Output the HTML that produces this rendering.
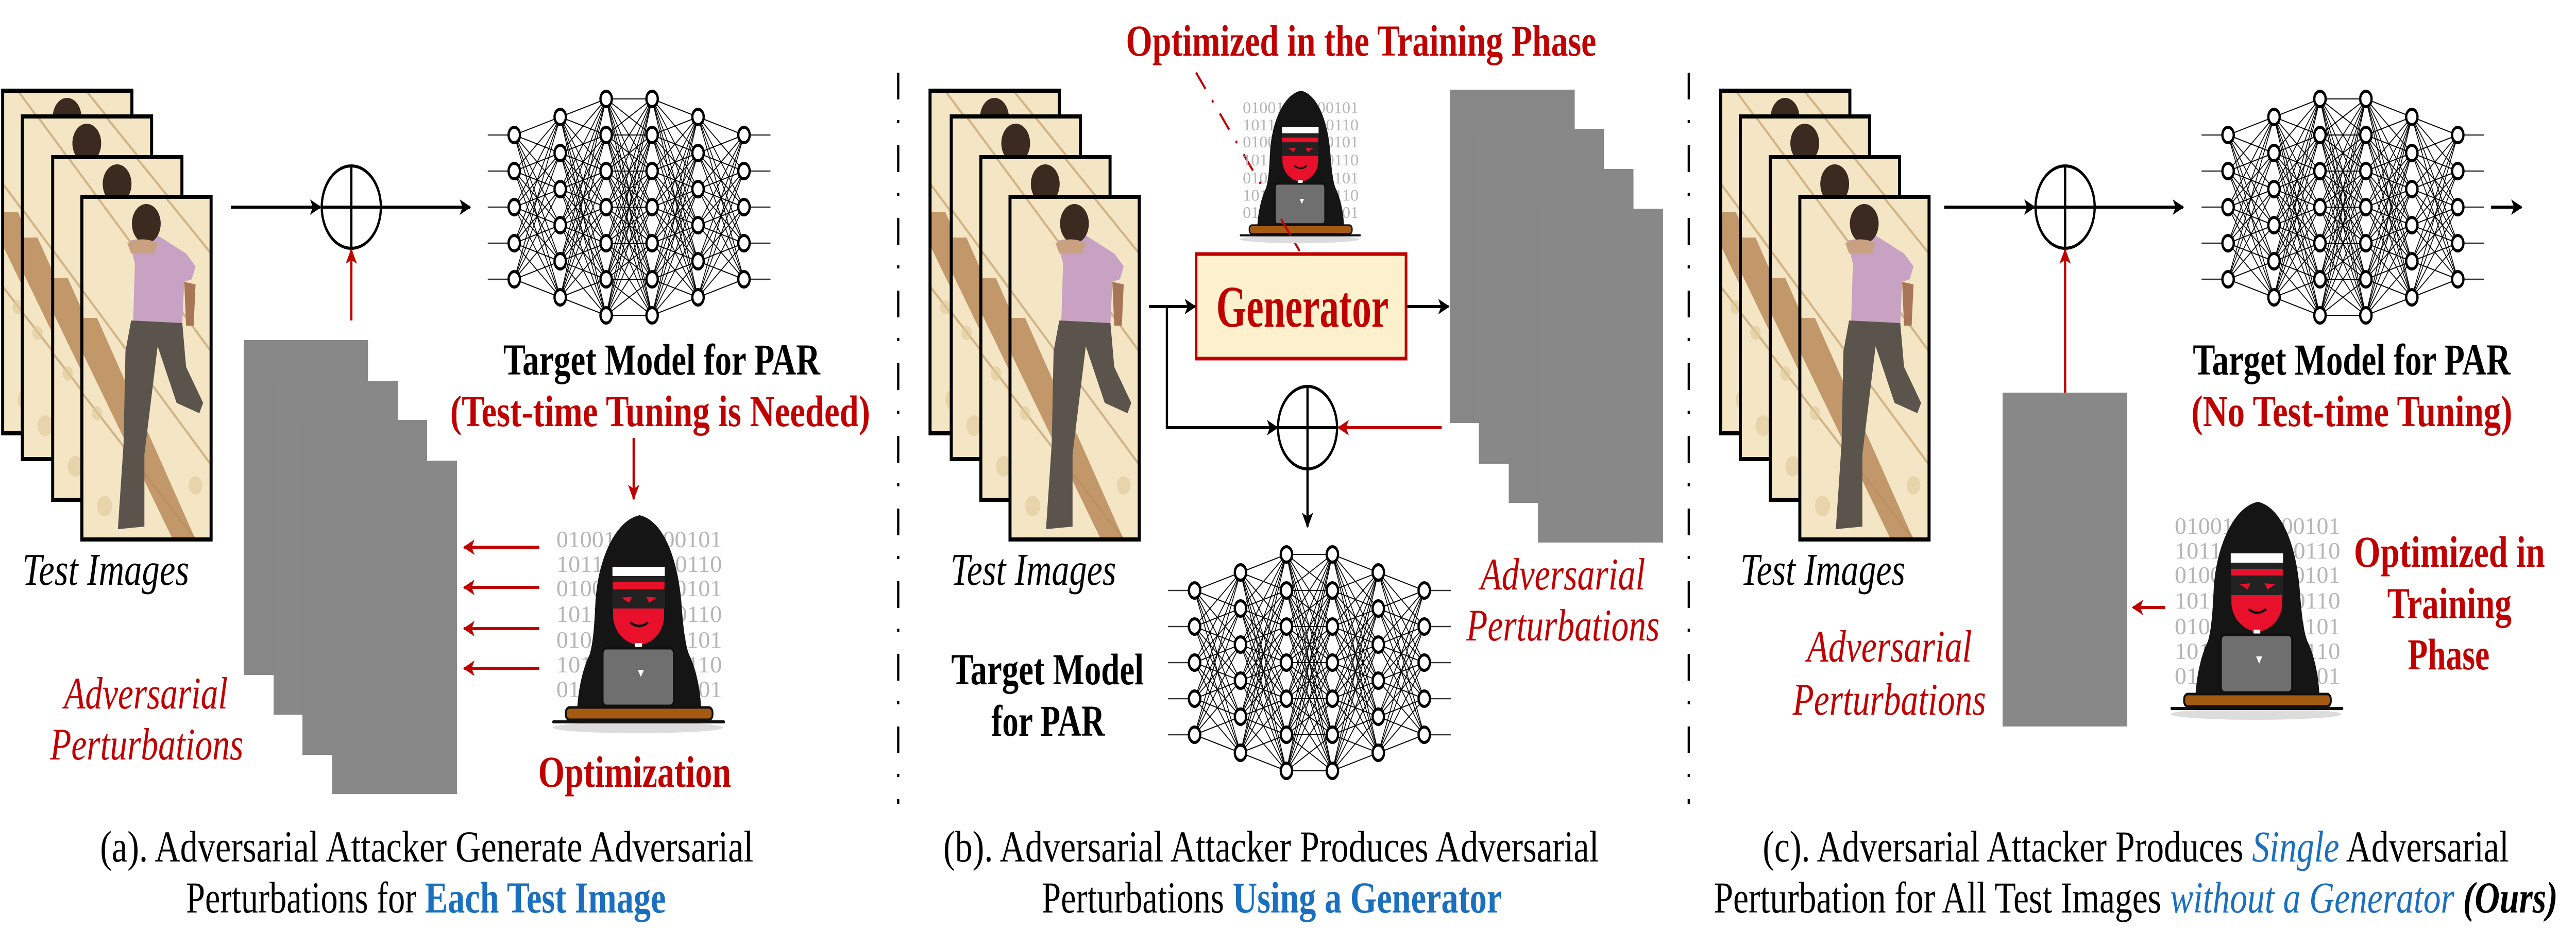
<!DOCTYPE html>
<html><head><meta charset="utf-8"><style>
html,body{margin:0;padding:0;background:#fff;overflow:hidden;width:100%;height:100%;}
svg{display:block;width:100vw;height:100vh;}
text{font-family:"Liberation Serif",serif;}
</style></head><body>
<svg id="s" xmlns="http://www.w3.org/2000/svg" viewBox="0 0 6797 1836" preserveAspectRatio="none">
<defs>
<marker id="ab" viewBox="0 0 10 10" refX="9" refY="5" markerUnits="userSpaceOnUse" markerWidth="34" markerHeight="30" orient="auto"><path d="M0,0 L10,5 L0,10 L2.5,5z" fill="#000"/></marker>
<marker id="ar" viewBox="0 0 10 10" refX="9" refY="5" markerUnits="userSpaceOnUse" markerWidth="34" markerHeight="30" orient="auto"><path d="M0,0 L10,5 L0,10 L2.5,5z" fill="#c00000"/></marker>
<g id="photo">
 <rect x="0" y="0" width="341" height="665" fill="#f4e6c4"/>
 <g stroke="#c9a878" stroke-width="5" fill="none" opacity="0.8">
  <line x1="40" y1="0" x2="341" y2="300"/><line x1="220" y1="0" x2="341" y2="110"/>
  <line x1="0" y1="180" x2="341" y2="520"/><line x1="0" y1="380" x2="300" y2="665"/>
 </g>
 <path d="M0,235 L40,235 L300,665 L240,665 L0,300z" fill="#b98a5a" opacity="0.85"/>
 <g fill="#e0c89a" opacity="0.6"><circle cx="60" cy="600" r="20"/><circle cx="300" cy="560" r="18"/><circle cx="40" cy="420" r="14"/></g>
 <path d="M125,85 L200,75 L275,110 L300,135 L290,160 L270,165 L265,245 L135,250 L140,130z" fill="#c7a2c2"/>
 <path d="M270,165 L300,170 L295,250 L275,250z" fill="#a87656"/>
 <path d="M130,240 L265,245 L275,330 L320,400 L310,420 L250,400 L200,290 L165,500 L165,640 L95,645 L110,480 L115,300z" fill="#5a544d"/>
 <circle cx="170" cy="52" r="38" fill="#3b2a20"/>
 <path d="M120,90 Q160,75 200,90 L190,110 L130,110z" fill="#c9a080"/>
</g>
<g id="hk">
 <g font-family="Liberation Sans, sans-serif" font-size="46" fill="#b5b5b5">
  <text x="0" y="62" textLength="437" lengthAdjust="spacingAndGlyphs">01001000000101</text>
  <text x="0" y="110" textLength="437" lengthAdjust="spacingAndGlyphs">10110000100110</text>
  <text x="0" y="157" textLength="437" lengthAdjust="spacingAndGlyphs">01001000000101</text>
  <text x="0" y="207" textLength="437" lengthAdjust="spacingAndGlyphs">10110100100110</text>
  <text x="0" y="257" textLength="437" lengthAdjust="spacingAndGlyphs">01001000000101</text>
  <text x="0" y="305" textLength="437" lengthAdjust="spacingAndGlyphs">10110100000110</text>
  <text x="0" y="353" textLength="437" lengthAdjust="spacingAndGlyphs">01001000000101</text>
 </g>
 <ellipse cx="215" cy="412" rx="225" ry="11" fill="#dcdcdc"/>
 <path d="M220,0 C280,10 320,80 330,170 C335,220 340,250 350,270 C370,300 380,340 382,375 L55,375 C58,340 68,300 88,270 C96,250 100,220 103,170 C110,80 160,8 220,0Z" fill="#151515"/>
 <path d="M148,100 L286,100 L284,200 C280,230 250,250 218,252 C185,250 155,230 150,200Z" fill="#e8102a"/>
 <rect x="148" y="100" width="138" height="18" fill="#fff"/>
 <rect x="148" y="118" width="138" height="12" fill="#222"/>
 <rect x="148" y="143" width="138" height="38" fill="#222"/>
 <path d="M172,160 L200,158 L192,170z M265,160 L237,158 L245,170z" fill="#e8102a"/>
 <path d="M195,208 Q218,222 242,208" stroke="#111" stroke-width="5" fill="none"/>
 <rect x="208" y="248" width="18" height="10" fill="#fff"/>
 <rect x="122" y="258" width="188" height="112" rx="10" fill="#6f6f6f" stroke="#111" stroke-width="5"/>
 <path d="M215,300 h16 l-8,14z" fill="#fff"/>
 <rect x="25" y="373" width="387" height="24" rx="10" fill="#a55a12" stroke="#111" stroke-width="5"/>
 <line x1="-8" y1="401" x2="442" y2="401" stroke="#111" stroke-width="6" stroke-linecap="round"/>
</g>
</defs>

<!-- ===== Panel A ===== -->
<g transform="translate(7,176)"><use href="#photo"/><rect width="341" height="665" fill="none" stroke="#000" stroke-width="8"/></g>
<g transform="translate(59,226)"><use href="#photo"/><rect width="341" height="665" fill="none" stroke="#000" stroke-width="8"/></g>
<g transform="translate(139,305)"><use href="#photo"/><rect width="341" height="665" fill="none" stroke="#000" stroke-width="8"/></g>
<g transform="translate(216,382)"><use href="#photo"/><rect width="341" height="665" fill="none" stroke="#000" stroke-width="8"/></g>
<text x="59" y="1135" font-size="88" font-style="italic" textLength="440" lengthAdjust="spacingAndGlyphs">Test Images</text>

<line x1="609" y1="402" x2="845" y2="402" stroke="#000" stroke-width="6" marker-end="url(#ab)"/>
<ellipse cx="927" cy="402" rx="78" ry="80" fill="none" stroke="#000" stroke-width="6"/>
<line x1="927" y1="322" x2="927" y2="482" stroke="#000" stroke-width="6"/><line x1="849" y1="402" x2="1005" y2="402" stroke="#000" stroke-width="6"/>
<line x1="1005" y1="402" x2="1240" y2="402" stroke="#000" stroke-width="6" marker-end="url(#ab)"/>
<line x1="927" y1="622" x2="927" y2="485" stroke="#c00000" stroke-width="6" marker-end="url(#ar)"/>
<g id="nnA" transform="translate(1357,402)"></g>
<text x="1328" y="727" font-size="86" font-weight="bold" textLength="836" lengthAdjust="spacingAndGlyphs">Target Model for PAR</text>
<text x="1188" y="827" font-size="86" font-weight="bold" fill="#c00000" textLength="1108" lengthAdjust="spacingAndGlyphs">(Test-time Tuning is Needed)</text>
<line x1="1672" y1="850" x2="1672" y2="968" stroke="#c00000" stroke-width="6" marker-end="url(#ar)"/>

<rect x="643" y="660" width="328" height="650" fill="#878787"/>
<rect x="722" y="739" width="328" height="648" fill="#888888"/>
<rect x="798" y="815" width="329" height="650" fill="#878787"/>
<rect x="876" y="894" width="330" height="647" fill="#888888"/>
<g stroke="#c00000" stroke-width="6">
<line x1="1423" y1="1062" x2="1225" y2="1062" marker-end="url(#ar)"/>
<line x1="1423" y1="1140" x2="1225" y2="1140" marker-end="url(#ar)"/>
<line x1="1423" y1="1220" x2="1225" y2="1220" marker-end="url(#ar)"/>
<line x1="1423" y1="1297" x2="1225" y2="1297" marker-end="url(#ar)"/>
</g>
<use href="#hk" transform="translate(1468,1000)"/>
<text x="1420" y="1527" font-size="86" font-weight="bold" fill="#c00000" textLength="509" lengthAdjust="spacingAndGlyphs">Optimization</text>
<text x="169" y="1375" font-size="88" font-style="italic" fill="#c00000" textLength="432" lengthAdjust="spacingAndGlyphs">Adversarial</text>
<text x="132" y="1474" font-size="88" font-style="italic" fill="#c00000" textLength="510" lengthAdjust="spacingAndGlyphs">Perturbations</text>
<text x="264" y="1672" font-size="86" textLength="1724" lengthAdjust="spacingAndGlyphs">(a). Adversarial Attacker Generate Adversarial</text>
<text x="491" y="1771" font-size="86" textLength="1266" lengthAdjust="spacingAndGlyphs">Perturbations for <tspan fill="#1a6fbf" font-weight="bold">Each Test Image</tspan></text>

<!-- separators -->
<g stroke="#000" stroke-width="6" stroke-dasharray="52,40,6,43" fill="none">
<line x1="2370" y1="141" x2="2370" y2="1560"/>
<line x1="4456" y1="141" x2="4456" y2="1560"/>
</g>

<!-- ===== Panel B ===== -->
<g transform="translate(2454,176)"><use href="#photo"/><rect width="341" height="665" fill="none" stroke="#000" stroke-width="8"/></g>
<g transform="translate(2510,226)"><use href="#photo"/><rect width="341" height="665" fill="none" stroke="#000" stroke-width="8"/></g>
<g transform="translate(2588,305)"><use href="#photo"/><rect width="341" height="665" fill="none" stroke="#000" stroke-width="8"/></g>
<g transform="translate(2665,382)"><use href="#photo"/><rect width="341" height="665" fill="none" stroke="#000" stroke-width="8"/></g>
<text x="2508" y="1135" font-size="88" font-style="italic" textLength="437" lengthAdjust="spacingAndGlyphs">Test Images</text>

<text x="2971" y="108" font-size="86" font-weight="bold" fill="#c00000" textLength="1241" lengthAdjust="spacingAndGlyphs">Optimized in the Training Phase</text>
<line x1="3156" y1="141" x2="3429" y2="487" stroke="#c00000" stroke-width="5" stroke-dasharray="40,28,5,28"/>
<use href="#hk" transform="translate(3279,176) scale(0.70)"/>
<line x1="3380" y1="425" x2="3429" y2="487" stroke="#c00000" stroke-width="5" stroke-dasharray="40,28,5,28"/>

<rect x="3156" y="493" width="554" height="203" fill="#fdf0cc" stroke="#c00000" stroke-width="7"/>
<text x="3209" y="634" font-size="115" font-weight="bold" fill="#c00000" textLength="455" lengthAdjust="spacingAndGlyphs">Generator</text>

<line x1="3032" y1="595" x2="3153" y2="595" stroke="#000" stroke-width="6" marker-end="url(#ab)"/>
<polyline points="3079,595 3079,830 3370,830" fill="none" stroke="#000" stroke-width="6" marker-end="url(#ab)"/>
<line x1="3713" y1="595" x2="3822" y2="595" stroke="#000" stroke-width="6" marker-end="url(#ab)"/>
<ellipse cx="3450" cy="830" rx="78" ry="80" fill="none" stroke="#000" stroke-width="6"/>
<line x1="3450" y1="750" x2="3450" y2="910" stroke="#000" stroke-width="6"/><line x1="3372" y1="830" x2="3528" y2="830" stroke="#000" stroke-width="6"/>
<line x1="3450" y1="910" x2="3450" y2="1022" stroke="#000" stroke-width="6" marker-end="url(#ab)"/>

<rect x="3826" y="174" width="329" height="647" fill="#878787"/>
<rect x="3902" y="250" width="330" height="650" fill="#888888"/>
<rect x="3981" y="328" width="329" height="648" fill="#878787"/>
<rect x="4058" y="405" width="330" height="648" fill="#888888"/>
<line x1="3804" y1="830" x2="3532" y2="830" stroke="#c00000" stroke-width="6" marker-end="url(#ar)"/>

<g id="nnB" transform="translate(3152,1286)"></g>
<text x="2510" y="1328" font-size="86" font-weight="bold" textLength="508" lengthAdjust="spacingAndGlyphs">Target Model</text>
<text x="2616" y="1428" font-size="86" font-weight="bold" textLength="299" lengthAdjust="spacingAndGlyphs">for PAR</text>
<text x="3906" y="1144" font-size="88" font-style="italic" fill="#c00000" textLength="435" lengthAdjust="spacingAndGlyphs">Adversarial</text>
<text x="3869" y="1243" font-size="88" font-style="italic" fill="#c00000" textLength="510" lengthAdjust="spacingAndGlyphs">Perturbations</text>
<text x="2489" y="1672" font-size="86" textLength="1730" lengthAdjust="spacingAndGlyphs">(b). Adversarial Attacker Produces Adversarial</text>
<text x="2749" y="1771" font-size="86" textLength="1214" lengthAdjust="spacingAndGlyphs">Perturbations <tspan fill="#1a6fbf" font-weight="bold">Using a Generator</tspan></text>

<!-- ===== Panel C ===== -->
<g transform="translate(4540,176)"><use href="#photo"/><rect width="341" height="665" fill="none" stroke="#000" stroke-width="8"/></g>
<g transform="translate(4592,226)"><use href="#photo"/><rect width="341" height="665" fill="none" stroke="#000" stroke-width="8"/></g>
<g transform="translate(4671,305)"><use href="#photo"/><rect width="341" height="665" fill="none" stroke="#000" stroke-width="8"/></g>
<g transform="translate(4749,382)"><use href="#photo"/><rect width="341" height="665" fill="none" stroke="#000" stroke-width="8"/></g>
<text x="4592" y="1135" font-size="88" font-style="italic" textLength="435" lengthAdjust="spacingAndGlyphs">Test Images</text>

<line x1="5130" y1="402" x2="5368" y2="402" stroke="#000" stroke-width="6" marker-end="url(#ab)"/>
<ellipse cx="5449" cy="402" rx="78" ry="80" fill="none" stroke="#000" stroke-width="6"/>
<line x1="5449" y1="322" x2="5449" y2="482" stroke="#000" stroke-width="6"/><line x1="5371" y1="402" x2="5527" y2="402" stroke="#000" stroke-width="6"/>
<line x1="5527" y1="402" x2="5760" y2="402" stroke="#000" stroke-width="6" marker-end="url(#ab)"/>
<line x1="6573" y1="402" x2="6653" y2="402" stroke="#000" stroke-width="6" marker-end="url(#ab)"/>
<g id="nnC" transform="translate(5879,402)"></g>
<text x="5786" y="727" font-size="86" font-weight="bold" textLength="838" lengthAdjust="spacingAndGlyphs">Target Model for PAR</text>
<text x="5782" y="827" font-size="86" font-weight="bold" fill="#c00000" textLength="847" lengthAdjust="spacingAndGlyphs">(No Test-time Tuning)</text>

<rect x="5284" y="762" width="329" height="648" fill="#888888"/>
<line x1="5449" y1="762" x2="5449" y2="485" stroke="#c00000" stroke-width="6" marker-end="url(#ar)"/>
<line x1="5713" y1="1179" x2="5628" y2="1179" stroke="#c00000" stroke-width="6" marker-end="url(#ar)"/>
<use href="#hk" transform="translate(5738,974)"/>
<text x="6211" y="1100" font-size="86" font-weight="bold" fill="#c00000" textLength="504" lengthAdjust="spacingAndGlyphs">Optimized in</text>
<text x="6299" y="1200" font-size="86" font-weight="bold" fill="#c00000" textLength="328" lengthAdjust="spacingAndGlyphs">Training</text>
<text x="6353" y="1299" font-size="86" font-weight="bold" fill="#c00000" textLength="216" lengthAdjust="spacingAndGlyphs">Phase</text>
<text x="4768" y="1284" font-size="88" font-style="italic" fill="#c00000" textLength="435" lengthAdjust="spacingAndGlyphs">Adversarial</text>
<text x="4730" y="1387" font-size="88" font-style="italic" fill="#c00000" textLength="510" lengthAdjust="spacingAndGlyphs">Perturbations</text>
<text x="4651" y="1672" font-size="86" textLength="1969" lengthAdjust="spacingAndGlyphs">(c). Adversarial Attacker Produces <tspan fill="#1a6fbf" font-style="italic">Single</tspan> Adversarial</text>
<text x="4522" y="1771" font-size="86" textLength="2227" lengthAdjust="spacingAndGlyphs">Perturbation for All Test Images <tspan fill="#1a6fbf" font-style="italic">without a Generator</tspan> <tspan font-style="italic" font-weight="bold">(Ours)</tspan></text>
</svg>
<script>
(function(){
 var NS="http://www.w3.org/2000/svg";
 var sizes=[5,6,7,7,6,5],dx=121.2,dy=70;
 function build(id){
  var g=document.getElementById(id);
  var pts=sizes.map(function(n,i){var a=[];for(var k=0;k<n;k++)a.push([i*dx,(k-(n-1)/2)*dy]);return a;});
  function ln(x1,y1,x2,y2,w,c){var l=document.createElementNS(NS,"line");l.setAttribute("x1",x1);l.setAttribute("y1",y1);l.setAttribute("x2",x2);l.setAttribute("y2",y2);l.setAttribute("stroke",c);l.setAttribute("stroke-width",w);g.appendChild(l);}
  pts[0].forEach(function(p){ln(p[0]-70,p[1],p[0],p[1],2.5,"#333");});
  pts[5].forEach(function(p){ln(p[0],p[1],p[0]+70,p[1],2.5,"#333");});
  for(var i=0;i<5;i++)pts[i].forEach(function(a){pts[i+1].forEach(function(b){ln(a[0],a[1],b[0],b[1],2,"#000");});});
  pts.forEach(function(L){L.forEach(function(p){var c=document.createElementNS(NS,"circle");c.setAttribute("cx",p[0]);c.setAttribute("cy",p[1]);c.setAttribute("r",15);c.setAttribute("fill","#fff");c.setAttribute("stroke","#000");c.setAttribute("stroke-width",6);g.appendChild(c);});});
 }
 build("nnA");build("nnB");build("nnC");
})();
</script>
</body></html>
